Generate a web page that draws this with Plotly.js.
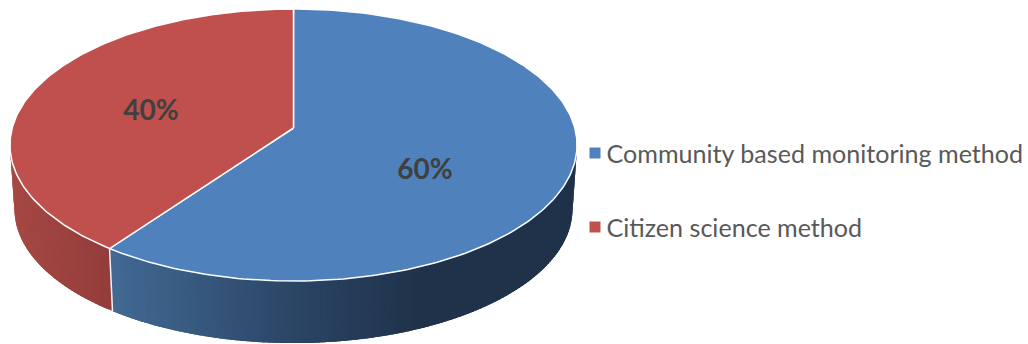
<!DOCTYPE html>
<html>
<head>
<meta charset="utf-8">
<script src="https://cdn.plot.ly/plotly-3.0.1.min.js"></script>
<style>html,body{margin:0;padding:0;background:#fff}#chart{width:1028px;height:344px}</style>
</head>
<body>
<div id="chart"></div>
<script>
// Share of each monitoring method, in percent
const categories = ['Community based monitoring method', 'Citizen science method'];
const shares = [60, 40];
const faceColors = ['#4F81BD', '#C0504D'];

// Side-wall shading: [screen x, r, g, b] stops for each slice
const wallStops = [
  [[108, 66, 106, 148], [300, 42, 68, 100], [420, 31, 50, 74], [580, 31, 50, 74]],
  [[10, 166, 72, 68], [112, 146, 60, 58]]
];

// Placement of the labels and legend keys in pixel-like axis units
const labelX = [425, 151];
const labelY = [172, 113];
const keyX = [595, 595];
const keyY = [153, 227];
const captionX = [606.5, 606.5];
const captionY = [157, 231];

// Perspective disc: apex position, radii, foreshortening, wall depth
const disc = {cx: 293.5, cy: 128, a: 281.3, b: 133.9, k: 0.125, wallScale: 0.984, wallDrop: 64.5};

// Project a rim point; angle runs clockwise from 12 o'clock
function rim(deg, lower) {
  const t = deg * Math.PI / 180;
  const u = Math.sin(t), v = -Math.cos(t);
  const d = 1 - disc.k * v;
  const s = lower ? disc.wallScale : 1;
  return [disc.cx + s * disc.a * u / d, disc.cy + s * disc.b * v / d + (lower ? disc.wallDrop : 0)];
}

function wallColor(stops, x) {
  let i = 0;
  while (i < stops.length - 2 && x > stops[i + 1][0]) i++;
  const a = stops[i], b = stops[i + 1];
  const f = Math.max(0, Math.min(1, (x - a[0]) / (b[0] - a[0])));
  const c = [1, 2, 3].map(n => Math.round(a[n] + (b[n] - a[n]) * f));
  return `rgb(${c[0]},${c[1]},${c[2]})`;
}

const total = shares.reduce((p, c) => p + c, 0);
const traces = [];

// Slice boundaries in degrees
const edges = [0];
shares.forEach(v => edges.push(edges[edges.length - 1] + v / total * 360));

// Only the front part of the wall shows, between the two widest rim points
const wallStart = Math.acos(-disc.k) * 180 / Math.PI;
const wallEnd = 360 - wallStart;
const stepDeg = 1;
const overlapDeg = 1.5;

// Each wall band runs under the next one so no seams show between them
shares.forEach((v, i) => {
  const from = Math.max(edges[i], wallStart);
  const to = Math.min(edges[i + 1], wallEnd);
  for (let d = from; d < to; d += stepDeg) {
    const e = Math.min(d + stepDeg + overlapDeg, to);
    const pts = [rim(d), rim(e), rim(e, true), rim(d, true), rim(d)];
    const color = wallColor(wallStops[i], rim(d + stepDeg / 2)[0]);
    traces.push({
      type: 'scatter', mode: 'lines', fill: 'toself', fillcolor: color,
      x: pts.map(p => p[0]), y: pts.map(p => p[1]),
      line: {width: 0}, hoverinfo: 'skip', showlegend: false
    });
  }
});

// White seam where the two slices meet on the wall
const seamTop = rim(edges[1]), seamLow = rim(edges[1], true);
traces.push({
  type: 'scatter', mode: 'lines',
  x: [seamTop[0], seamLow[0]], y: [seamTop[1], seamLow[1]],
  line: {color: '#F2F2F2', width: 1.5}, hoverinfo: 'skip', showlegend: false
});

// Top faces of the slices
shares.forEach((v, i) => {
  const xs = [disc.cx], ys = [disc.cy];
  for (let d = edges[i]; d < edges[i + 1]; d += 1) {
    const p = rim(d);
    xs.push(p[0]); ys.push(p[1]);
  }
  const last = rim(edges[i + 1]);
  xs.push(last[0], disc.cx); ys.push(last[1], disc.cy);
  traces.push({
    type: 'scatter', mode: 'lines', fill: 'toself', fillcolor: faceColors[i],
    x: xs, y: ys, name: categories[i],
    line: {color: '#FFFFFF', width: 1.5}, hoverinfo: 'name', showlegend: false
  });
});

// Percentage labels
traces.push({
  type: 'scatter', mode: 'text',
  x: labelX, y: labelY,
  text: shares.map(v => v + '%'), textposition: 'middle center',
  textfont: {family: 'Lato, "Open Sans", sans-serif', size: 28, color: '#404040', weight: 700},
  hoverinfo: 'skip', showlegend: false
});

// Legend keys and their captions
categories.forEach((c, i) => {
  traces.push({
    type: 'scatter', mode: 'markers',
    x: [keyX[i]], y: [keyY[i]],
    marker: {symbol: 'square', size: 11, color: faceColors[i]},
    hoverinfo: 'skip', showlegend: false
  });
  traces.push({
    type: 'scatter', mode: 'text',
    x: [captionX[i]], y: [captionY[i]],
    text: [c], textposition: 'middle right',
    textfont: {family: 'Lato, "Open Sans", sans-serif', size: 25.1, color: '#595959'},
    hoverinfo: 'skip', showlegend: false
  });
});

const layout = {
  width: 1028, height: 344,
  margin: {l: 0, r: 0, t: 0, b: 0},
  paper_bgcolor: '#FFFFFF', plot_bgcolor: '#FFFFFF',
  showlegend: false,
  xaxis: {range: [0, 1028], visible: false, fixedrange: true},
  yaxis: {range: [344, 0], visible: false, fixedrange: true}
};

Plotly.newPlot('chart', traces, layout, {displayModeBar: false, staticPlot: true});
</script>
</body>
</html>
